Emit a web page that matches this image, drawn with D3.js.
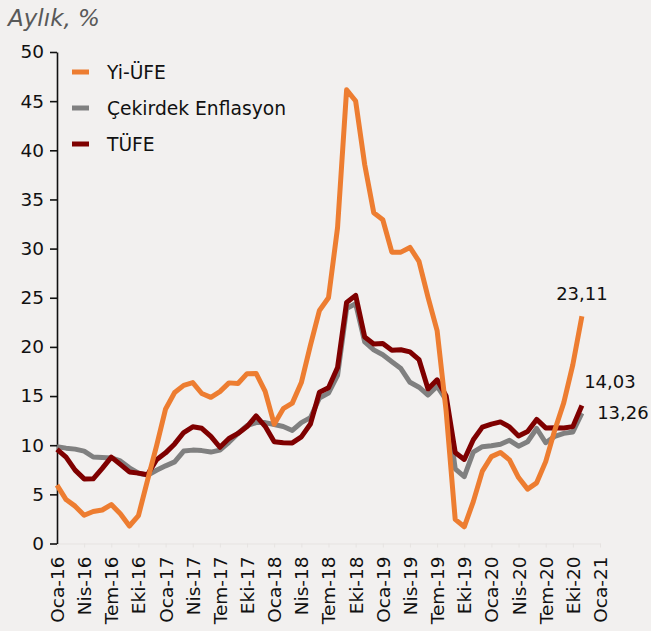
<!DOCTYPE html>
<meta charset="utf-8">
<style>
  body { margin: 0; background: #f2f0ef; }
  svg { display: block; font-family: "DejaVu Sans", sans-serif; }
</style>
<svg width="651" height="631"></svg>
<script src="https://d3js.org/d3.v7.min.js"></script>
<script>

    var svg = d3.select("svg"),
        width = +svg.attr("width"),
        height = +svg.attr("height");

    /* --------------------
     Data (monthly, Oca-16 .. Kas-20)
   -------------------- */

    var tickLabels = ["Oca-16", "Nis-16", "Tem-16", "Eki-16",
                      "Oca-17", "Nis-17", "Tem-17", "Eki-17",
                      "Oca-18", "Nis-18", "Tem-18", "Eki-18",
                      "Oca-19", "Nis-19", "Tem-19", "Eki-19",
                      "Oca-20", "Nis-20", "Tem-20", "Eki-20",
                      "Oca-21"];

    var yiUfe = [5.94, 4.47, 3.80, 2.87, 3.25, 3.41, 3.96, 3.03, 1.78, 2.84, 6.41, 9.94,
                 13.69, 15.36, 16.09, 16.37, 15.26, 14.87, 15.45, 16.34, 16.28, 17.28, 17.30, 15.47,
                 12.14, 13.71, 14.28, 16.37, 20.16, 23.71, 25.00, 32.13, 46.15, 45.01, 38.54, 33.64,
                 32.93, 29.64, 29.64, 30.12, 28.71, 25.04, 21.66, 13.45, 2.45, 1.70, 4.26, 7.36,
                 8.84, 9.26, 8.50, 6.71, 5.53, 6.17, 8.33, 11.53, 14.33, 18.20, 23.11];

    var cekirdek = [9.85, 9.7, 9.6, 9.4, 8.8, 8.75, 8.7, 8.4, 7.7, 7.15, 6.95, 7.45,
                    7.9, 8.3, 9.4, 9.5, 9.45, 9.3, 9.5, 10.3, 11.2, 12.0, 12.3, 12.3,
                    12.1, 11.9, 11.5, 12.3, 12.8, 14.8, 15.3, 17.1, 23.9, 24.4, 20.5, 19.7,
                    19.2, 18.5, 17.8, 16.4, 15.9, 15.1, 16.0, 14.6, 7.6, 6.8, 9.3, 9.85,
                    9.95, 10.1, 10.5, 9.9, 10.35, 11.7, 10.25, 10.9, 11.2, 11.35, 13.26];

    var tufe = [9.58, 8.78, 7.46, 6.57, 6.58, 7.64, 8.79, 8.05, 7.28, 7.16, 7.00, 8.53,
                9.22, 10.13, 11.29, 11.87, 11.72, 10.90, 9.79, 10.68, 11.20, 11.90, 12.98, 11.92,
                10.35, 10.26, 10.23, 10.85, 12.15, 15.39, 15.85, 17.90, 24.52, 25.24, 21.0, 20.30,
                20.35, 19.67, 19.71, 19.50, 18.71, 15.72, 16.65, 15.01, 9.26, 8.55, 10.56, 11.84,
                12.15, 12.37, 11.86, 10.94, 11.39, 12.62, 11.76, 11.77, 11.75, 11.89, 14.03];

    var seriesNames  = ["Yi-ÜFE", "Çekirdek Enflasyon", "TÜFE"];
    var seriesColors = ["#ed7d31", "#808080", "#7f0000"];

    /* --------------------
     Scales
   -------------------- */

    var x = d3.scaleLinear().domain([0, 60]).range([57, 600]);
    var y = d3.scaleLinear().domain([0, 50]).range([543.5, 52]);

    // title
    svg.append("text")
        .attr("x", 8)
        .attr("y", 26)
        .attr("font-size", 23)
        .attr("font-style", "italic")
        .attr("fill", "#595959")
        .text("Aylık, %");

    // x axis (very faint line, rotated labels)
    var xAxis = svg.append("g")
        .attr("transform", "translate(0," + y(0) + ")")
        .call(d3.axisBottom(x)
            .tickValues(d3.range(0, 61, 3))
            .tickFormat(function(d, i) { return tickLabels[i]; })
            .tickSize(4)
            .tickSizeOuter(0));
    xAxis.selectAll("path, line").attr("stroke", "#e6e3e1");
    xAxis.selectAll("text")
        .attr("transform", "rotate(-90)")
        .attr("text-anchor", "end")
        .attr("x", -13)
        .attr("y", 0)
        .attr("dy", "0.35em")
        .attr("font-size", 18.5)
        .attr("font-family", "DejaVu Sans")
        .attr("fill", "#111");

    // y axis
    var yAxis = svg.append("g")
        .attr("transform", "translate(" + x(0) + ",0)")
        .call(d3.axisLeft(y)
            .tickValues(d3.range(0, 51, 5))
            .tickSize(7)
            .tickPadding(6)
            .tickSizeOuter(0));
    yAxis.select(".domain").attr("stroke", "#111").attr("stroke-width", 1.6);
    yAxis.selectAll(".tick line").attr("stroke", "#111").attr("stroke-width", 1.6);
    yAxis.selectAll("text")
        .attr("font-size", 18.5)
        .attr("font-family", "DejaVu Sans")
        .attr("fill", "#111");

    // lines
    var line = d3.line()
        .x(function(d, i) { return x(i); })
        .y(function(d) { return y(d); });

    var drawOrder = [
        { values: cekirdek, color: seriesColors[1] },
        { values: tufe,     color: seriesColors[2] },
        { values: yiUfe,    color: seriesColors[0] }
    ];

    svg.selectAll(".series")
        .data(drawOrder)
        .enter().append("path")
        .attr("class", "series")
        .attr("d", function(d) { return line(d.values); })
        .attr("fill", "none")
        .attr("stroke", function(d) { return d.color; })
        .attr("stroke-width", 5)
        .attr("stroke-linejoin", "round");

    // end labels
    var fmt = function(v) { return d3.format(".2f")(v).replace(".", ","); };
    var last = yiUfe.length - 1;
    var endLabels = [
        { v: yiUfe[last],    dx: 0,  dy: -16 },
        { v: tufe[last],     dx: 28, dy: -18 },
        { v: cekirdek[last], dx: 41, dy: 6 }
    ];
    svg.selectAll(".endlabel")
        .data(endLabels)
        .enter().append("text")
        .attr("class", "endlabel")
        .attr("x", function(d) { return x(last) + d.dx; })
        .attr("y", function(d) { return y(d.v) + d.dy; })
        .attr("text-anchor", "middle")
        .attr("font-size", 18)
        .attr("fill", "#111")
        .text(function(d) { return fmt(d.v); });

    // legend
    var legend = svg.selectAll(".legend")
        .data(seriesNames)
        .enter().append("g")
        .attr("class", "legend")
        .attr("transform", function(d, i) { return "translate(72," + (72 + i * 36) + ")"; });

    legend.append("line")
        .attr("x1", 0).attr("x2", 17)
        .attr("stroke", function(d, i) { return seriesColors[i]; })
        .attr("stroke-width", 5);

    legend.append("text")
        .attr("x", 35)
        .attr("dy", "0.35em")
        .attr("font-size", 18.7)
        .attr("fill", "#111")
        .text(function(d) { return d; });

</script>
